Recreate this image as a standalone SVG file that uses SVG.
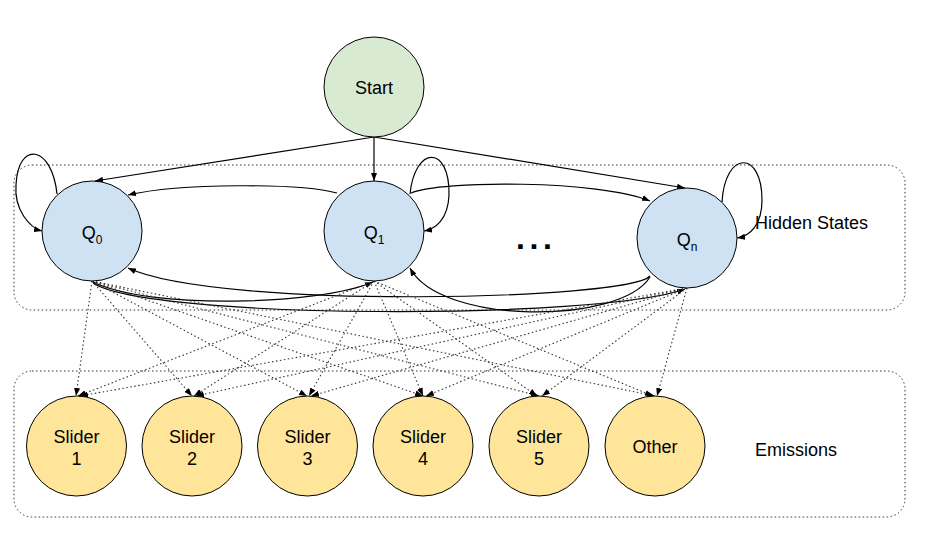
<svg xmlns="http://www.w3.org/2000/svg" width="925" height="548" viewBox="0 0 925 548">
<defs>
<style>
text{font-family:"Liberation Sans",Arial,sans-serif;font-size:18px;fill:#000}
tspan{fill:#000}
.mid{text-anchor:middle}
.node{stroke:#000;stroke-width:1}
.box{fill:none;stroke:#333;stroke-width:1;stroke-dasharray:1.5 2.5}
.c{fill:none;stroke:#000;stroke-width:1.2}
.d{fill:none;stroke:#333;stroke-width:1.1;stroke-dasharray:1.5 2.5}
.dots{font-size:32px;font-weight:bold;letter-spacing:4.6px}
</style>
<marker id="ah" viewBox="0 0 8 6" refX="8" refY="3" markerWidth="8" markerHeight="6" markerUnits="userSpaceOnUse" orient="auto">
<path d="M0,0 L8,3 L0,6 Z" fill="#000"/>
</marker>
</defs>
<rect width="925" height="548" fill="#fff"/>
<g id="hidden-box"><rect class="box" x="14" y="165" width="891" height="145" rx="18"/><text x="755" y="229">Hidden States</text></g>
<g id="emissions-box"><rect class="box" x="14" y="371" width="891" height="146" rx="18"/><text x="755" y="456">Emissions</text></g>
<g id="connectors">
<path class="c" d="M374,137 L95,181" marker-end="url(#ah)"/>
<path class="c" d="M374,137 L374,181" marker-end="url(#ah)"/>
<path class="c" d="M374,137 L685,188" marker-end="url(#ah)"/>
<path class="c" d="M57,194 C52,145 18,140 16,185 C14,210 30,228 42,231" marker-end="url(#ah)"/>
<path class="c" d="M410,194 C415,145 450,145 449,195 C448,220 435,229 424,231" marker-end="url(#ah)"/>
<path class="c" d="M722,202 C725,150 762,150 762,200 C762,225 750,236 737,238" marker-end="url(#ah)"/>
<path class="c" d="M337,193 C300,183 180,183 128,195" marker-end="url(#ah)"/>
<path class="c" d="M411,193 C440,180 600,180 650,201" marker-end="url(#ah)"/>
<path class="c" d="M650,276 C630,300 220,310 128,268" marker-end="url(#ah)"/>
<path class="c" d="M650,277 C620,325 440,325 410,268" marker-end="url(#ah)"/>
<path class="c" d="M93,282 C150,310 320,305 373,282" marker-end="url(#ah)"/>
<path class="c" d="M93,283 C150,320 600,320 685,289" marker-end="url(#ah)"/>
<g id="emission-lines">
<path class="d" d="M92,281 L76,396" marker-end="url(#ah)"/>
<path class="d" d="M92,281 L192,396" marker-end="url(#ah)"/>
<path class="d" d="M92,281 L307,396" marker-end="url(#ah)"/>
<path class="d" d="M92,281 L423,396" marker-end="url(#ah)"/>
<path class="d" d="M92,281 L539,396" marker-end="url(#ah)"/>
<path class="d" d="M92,281 L655,396" marker-end="url(#ah)"/>
<path class="d" d="M374,281 L78,396" marker-end="url(#ah)"/>
<path class="d" d="M374,281 L194,396" marker-end="url(#ah)"/>
<path class="d" d="M374,281 L309,396" marker-end="url(#ah)"/>
<path class="d" d="M374,281 L423,396" marker-end="url(#ah)"/>
<path class="d" d="M374,281 L537,396" marker-end="url(#ah)"/>
<path class="d" d="M374,281 L653,396" marker-end="url(#ah)"/>
<path class="d" d="M687,288 L80,396" marker-end="url(#ah)"/>
<path class="d" d="M687,288 L196,396" marker-end="url(#ah)"/>
<path class="d" d="M687,288 L311,396" marker-end="url(#ah)"/>
<path class="d" d="M687,288 L426,396" marker-end="url(#ah)"/>
<path class="d" d="M687,288 L542,396" marker-end="url(#ah)"/>
<path class="d" d="M687,288 L657,396" marker-end="url(#ah)"/>
</g>
</g>
<g id="start"><circle class="node" cx="374" cy="87" r="50" fill="#d9ead3"/><text class="mid" x="374" y="94">Start</text></g>
<g id="q0"><circle class="node" cx="92" cy="231" r="50" fill="#cfe2f3"/><text class="mid" x="92" y="239">Q<tspan font-size="12" dy="5">0</tspan></text></g>
<g id="q1"><circle class="node" cx="374" cy="231" r="50" fill="#cfe2f3"/><text class="mid" x="374" y="239">Q<tspan font-size="12" dy="5">1</tspan></text></g>
<g id="qn"><circle class="node" cx="687" cy="238" r="50" fill="#cfe2f3"/><text class="mid" x="687" y="246">Q<tspan font-size="12" dy="5">n</tspan></text></g>
<g id="ellipsis"><text class="dots" x="516" y="249">...</text></g>
<g id="slider1"><circle class="node" cx="76.5" cy="446" r="50" fill="#ffe599"/><text class="mid" x="76.5" y="443">Slider</text><text class="mid" x="76.5" y="465">1</text></g>
<g id="slider2"><circle class="node" cx="192" cy="446" r="50" fill="#ffe599"/><text class="mid" x="192" y="443">Slider</text><text class="mid" x="192" y="465">2</text></g>
<g id="slider3"><circle class="node" cx="307.5" cy="446" r="50" fill="#ffe599"/><text class="mid" x="307.5" y="443">Slider</text><text class="mid" x="307.5" y="465">3</text></g>
<g id="slider4"><circle class="node" cx="423" cy="446" r="50" fill="#ffe599"/><text class="mid" x="423" y="443">Slider</text><text class="mid" x="423" y="465">4</text></g>
<g id="slider5"><circle class="node" cx="539" cy="446" r="50" fill="#ffe599"/><text class="mid" x="539" y="443">Slider</text><text class="mid" x="539" y="465">5</text></g>
<g id="other"><circle class="node" cx="655" cy="446" r="50" fill="#ffe599"/><text class="mid" x="655" y="453">Other</text></g>
</svg>
